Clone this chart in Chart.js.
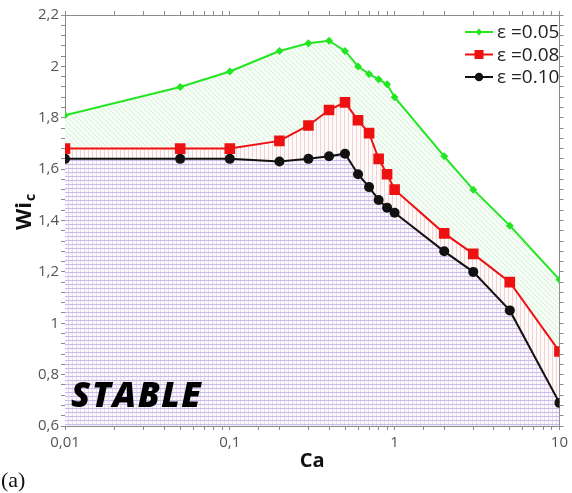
<!DOCTYPE html>
<html>
<head>
<meta charset="utf-8">
<title>Wi_c vs Ca</title>
<script src="https://cdn.jsdelivr.net/npm/chart.js@4.4.1/dist/chart.umd.min.js"></script>
<style>
  html, body { margin: 0; padding: 0; background: #fff; }
  #wrap { width: 572px; height: 493px; }
</style>
</head>
<body>
<div id="wrap"><canvas id="wiChart" width="572" height="493"></canvas></div>
<script>
// capillary number on the x axis (log scale)
const caValues = [0.01, 0.05, 0.1, 0.2, 0.3, 0.4, 0.5, 0.6, 0.7, 0.8, 0.9, 1, 2, 3, 5, 10];

// critical Weissenberg number for each eccentricity
const wiEps005 = [1.81, 1.92, 1.98, 2.06, 2.09, 2.10, 2.06, 2.00, 1.97, 1.95, 1.93, 1.88, 1.65, 1.52, 1.38, 1.17];
const wiEps008 = [1.68, 1.68, 1.68, 1.71, 1.77, 1.83, 1.86, 1.79, 1.74, 1.64, 1.58, 1.52, 1.35, 1.27, 1.16, 0.89];
const wiEps010 = [1.64, 1.64, 1.64, 1.63, 1.64, 1.65, 1.66, 1.58, 1.53, 1.48, 1.45, 1.43, 1.28, 1.20, 1.05, 0.69];

const seriesLabels = ["ε =0.05", "ε =0.08", "ε =0.10"];
const xDecadeLabels = ["0,01", "0,1", "1", "10"];
const yMajorLabels = ["0,6", "0,8", "1", "1,2", "1,4", "1,6", "1,8", "2", "2,2"];

const AXIS_GRAY = "#8a8a8a";
const TICK_FONT = { family: "'Open Sans', sans-serif", size: 15 };

function makePattern(size, draw) {
  const c = document.createElement("canvas");
  c.width = size;
  c.height = size;
  const g = c.getContext("2d");
  draw(g, size);
  return g.createPattern(c, "repeat");
}

// faint green diagonal hatch (between eps 0.05 and 0.08)
const greenHatch = makePattern(5, (g, s) => {
  g.fillStyle = "rgb(246,252,246)";
  g.fillRect(0, 0, s, s);
  g.fillStyle = "rgb(214,240,214)";
  for (let i = 0; i < s; i++) g.fillRect(i, i, 1, 1);
});

// pink vertical hatch (between eps 0.08 and 0.10)
const redHatch = makePattern(4, (g, s) => {
  g.fillStyle = "rgb(253,250,250)";
  g.fillRect(0, 0, s, s);
  g.fillStyle = "rgb(242,208,212)";
  g.fillRect(0, 0, 1, s);
});

// lavender grid below eps 0.10 (stable region)
const stableGrid = makePattern(4, (g, s) => {
  g.fillStyle = "rgb(249,248,253)";
  g.fillRect(0, 0, s, s);
  g.fillStyle = "rgb(242,214,232)";
  g.fillRect(0, 0, 1, s);
  g.fillStyle = "rgb(196,190,236)";
  g.fillRect(0, 0, s, 1);
});

const fmtY = (v) => {
  const k = (v - 0.6) / 0.2;
  if (Math.abs(k - Math.round(k)) > 1e-6) return "";
  return yMajorLabels[Math.round(k)] || "";
};

const fmtX = (v) => {
  const e = Math.log10(v);
  if (Math.abs(e - Math.round(e)) > 1e-6) return "";
  return xDecadeLabels[Math.round(e) + 2] || "";
};

// white page, titles, STABLE tag and the legend
const decorations = {
  id: "decorations",
  beforeDraw(chart) {
    const ctx = chart.ctx;
    ctx.save();
    ctx.fillStyle = "#fff";
    ctx.fillRect(0, 0, chart.width, chart.height);
    ctx.restore();
  },
  afterDatasetsDraw(chart) {
    const ctx = chart.ctx;
    const area = chart.chartArea;
    ctx.save();
    ctx.fillStyle = "#000";
    ctx.font = "italic 800 35px 'Open Sans', sans-serif";
    ctx.letterSpacing = "1.5px";
    ctx.textBaseline = "alphabetic";
    ctx.fillText("STABLE", area.left + 6, area.bottom - 19);
    ctx.restore();
  },
  afterDraw(chart) {
    const ctx = chart.ctx;
    const area = chart.chartArea;
    ctx.save();

    // x title
    ctx.fillStyle = "#111";
    ctx.font = "bold 20px 'Open Sans', sans-serif";
    ctx.textAlign = "center";
    ctx.textBaseline = "middle";
    ctx.fillText("Ca", (area.left + area.right) / 2, 461);

    // y title with subscript
    ctx.save();
    ctx.translate(31, 230);
    ctx.rotate(-Math.PI / 2);
    ctx.textAlign = "left";
    ctx.textBaseline = "alphabetic";
    ctx.font = "bold 22px 'Open Sans', sans-serif";
    ctx.fillText("Wi", 0, 0);
    const w = ctx.measureText("Wi").width;
    ctx.font = "bold 14px 'Open Sans', sans-serif";
    ctx.fillText("c", w + 1, 4);
    ctx.restore();

    // panel tag
    ctx.font = "22px 'Liberation Serif', serif";
    ctx.textAlign = "left";
    ctx.textBaseline = "alphabetic";
    ctx.fillText("(a)", 1, 487);

    // legend
    chart.data.datasets.forEach((ds, i) => {
      const y = 32 + i * 22.5;
      ctx.strokeStyle = ds.borderColor;
      ctx.lineWidth = 2;
      ctx.beginPath();
      ctx.moveTo(465, y);
      ctx.lineTo(493, y);
      ctx.stroke();
      ctx.fillStyle = ds.pointBackgroundColor;
      ctx.strokeStyle = ds.pointBorderColor;
      Chart.helpers.drawPoint(ctx, {
        pointStyle: ds.pointStyle,
        radius: ds.pointRadius * 0.85,
        rotation: 0,
        borderWidth: 0,
      }, 479, y);
      ctx.fillStyle = "#222";
      ctx.font = "19px 'Open Sans', sans-serif";
      ctx.textAlign = "left";
      ctx.textBaseline = "middle";
      ctx.fillText(ds.label, 497, y + 1);
    });
    ctx.restore();
  },
};

function series(label, values, color, style, radius, fill, hatch) {
  return {
    label,
    data: caValues.map((x, i) => ({ x, y: values[i] })),
    borderColor: color,
    borderWidth: 2,
    backgroundColor: hatch,
    fill,
    pointStyle: style,
    pointRadius: radius,
    pointHoverRadius: radius,
    pointBackgroundColor: color,
    pointBorderColor: color,
    pointBorderWidth: 0,
    tension: 0,
  };
}

const frameGrid = {
  drawOnChartArea: false,
  drawTicks: true,
  tickLength: 4,
  color: AXIS_GRAY,
  tickColor: AXIS_GRAY,
};

new Chart(document.getElementById("wiChart"), {
  type: "line",
  data: {
    datasets: [
      series(seriesLabels[0], wiEps005, "#22e622", "rectRot", 4, "+1", greenHatch),
      series(seriesLabels[1], wiEps008, "#ee1111", "rect", 7.5, "+1", redHatch),
      series(seriesLabels[2], wiEps010, "#111111", "circle", 5, "start", stableGrid),
    ],
  },
  options: {
    responsive: false,
    animation: false,
    events: [],
    layout: { padding: 0 },
    plugins: {
      legend: { display: false },
      tooltip: { enabled: false },
      filler: { drawTime: "beforeDatasetsDraw" },
    },
    scales: {
      x: {
        type: "logarithmic",
        position: "bottom",
        min: 0.01,
        max: 10,
        grid: frameGrid,
        border: { color: AXIS_GRAY, width: 1 },
        ticks: {
          autoSkip: false,
          maxRotation: 0,
          padding: 4,
          color: "#555",
          font: TICK_FONT,
          callback: fmtX,
        },
        afterFit: (s) => { s.height = 67; },
      },
      xTop: {
        type: "logarithmic",
        position: "top",
        min: 0.01,
        max: 10,
        grid: frameGrid,
        border: { color: AXIS_GRAY, width: 1 },
        ticks: { display: false },
        afterFit: (s) => { s.height = 15; },
      },
      y: {
        type: "linear",
        position: "left",
        min: 0.6,
        max: 2.2,
        grid: frameGrid,
        border: { color: AXIS_GRAY, width: 1 },
        ticks: {
          stepSize: 0.04,
          autoSkip: false,
          padding: 2,
          color: "#555",
          font: TICK_FONT,
          callback: fmtY,
        },
        afterFit: (s) => { s.width = 65; },
      },
      yRight: {
        type: "linear",
        position: "right",
        min: 0.6,
        max: 2.2,
        grid: frameGrid,
        border: { color: AXIS_GRAY, width: 1 },
        ticks: { display: false, stepSize: 0.04 },
        afterFit: (s) => { s.width = 12; },
      },
    },
  },
  plugins: [decorations],
});
</script>
</body>
</html>
